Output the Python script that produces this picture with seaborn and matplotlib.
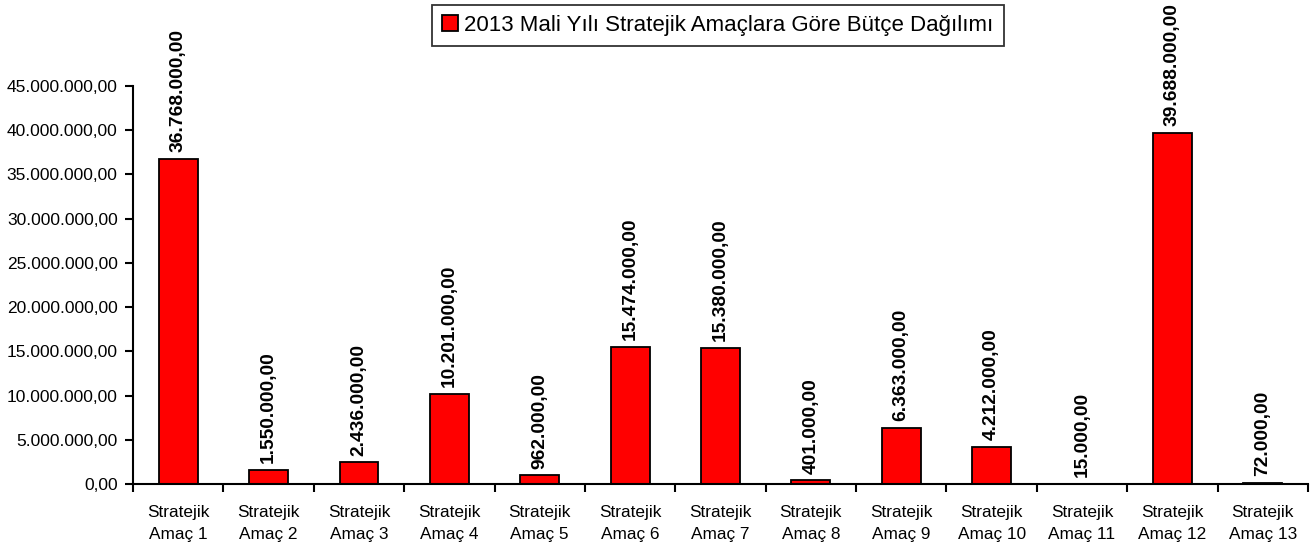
import matplotlib
matplotlib.use("Agg")
import matplotlib.pyplot as plt
import seaborn as sns
import pandas as pd
from matplotlib.patches import Patch
from matplotlib.ticker import FuncFormatter, MultipleLocator, FixedLocator

categories = [f"Stratejik\nAmaç {i}" for i in range(1, 14)]
values = [36768000, 1550000, 2436000, 10201000, 962000, 15474000, 15380000,
          401000, 6363000, 4212000, 15000, 39688000, 72000]
series_name = "2013 Mali Yılı Stratejik Amaçlara Göre Bütçe Dağılımı"

sns.set_style("white")
plt.rcParams['font.family'] = ['Liberation Sans', 'DejaVu Sans']
plt.rcParams.update({"text.color": "black", "axes.labelcolor": "black",
                     "xtick.color": "black", "ytick.color": "black"})

def tr_fmt(v, pos=None):
    s = f"{v:,.2f}"
    return s.replace(",", "X").replace(".", ",").replace("X", ".")

df = pd.DataFrame({"cat": categories, "val": values})

fig = plt.figure(figsize=(13.14, 5.52), dpi=100)
ax = fig.add_axes([0.1012, 0.1232, 0.8942, 0.7210])
sns.barplot(data=df, x="cat", y="val", color="#FF0000", saturation=1,
            edgecolor="black", linewidth=1.3, width=0.43, ax=ax)

for p, v in zip(ax.patches, values):
    ax.annotate(tr_fmt(v), (p.get_x() + p.get_width() / 2, p.get_height()),
                xytext=(0, 5), textcoords="offset points", rotation=90,
                ha="center", va="bottom", fontsize=13.8, fontweight="bold",
                color="black", annotation_clip=False)

ax.set_ylim(0, 45000000)
ax.set_xlim(-0.5, 12.5)
ax.yaxis.set_major_locator(MultipleLocator(5000000))
ax.yaxis.set_major_formatter(FuncFormatter(tr_fmt))
ax.set_xlabel("")
ax.set_ylabel("")

ax.xaxis.set_minor_locator(FixedLocator([i - 0.5 for i in range(14)]))
ax.tick_params(axis="x", which="major", length=0, pad=15, labelsize=12.4, labelcolor="black")
ax.tick_params(axis="x", which="minor", length=6, width=1.5, direction="out", bottom=True,
               color="black")
ax.tick_params(axis="y", which="major", length=6, width=1.5, direction="out", left=True,
               labelsize=12.5, pad=5, color="black", labelcolor="black")
for lbl in ax.get_xticklabels():
    lbl.set_linespacing(1.6)

for s in ["top", "right"]:
    ax.spines[s].set_visible(False)
for s in ["left", "bottom"]:
    ax.spines[s].set_color("black")
    ax.spines[s].set_linewidth(1.5)

handle = Patch(facecolor="#FF0000", edgecolor="black", linewidth=1.3)
leg = fig.legend([handle], [series_name], loc="upper center", bbox_to_anchor=(0.5464, 0.991),
                 frameon=True, fancybox=False, edgecolor="black", fontsize=16,
                 labelcolor="black",
                 handlelength=0.7, handleheight=0.7, handletextpad=0.3,
                 borderpad=0.45, borderaxespad=0)
leg.get_frame().set_linewidth(1.3)

fig.savefig("out.png", dpi=100)
